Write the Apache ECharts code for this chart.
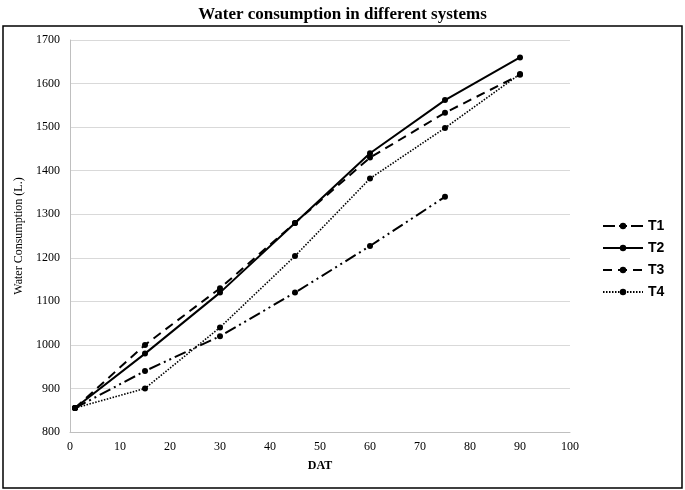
<!DOCTYPE html>
<html><head><meta charset="utf-8">
<script src="https://cdn.jsdelivr.net/npm/echarts@6/dist/echarts.min.js"></script>
<style>html,body{margin:0;padding:0;background:#fff}#c{width:685px;height:490px}</style>
</head><body><div id="c"></div>
<script>
const days = [1, 15, 30, 45, 60, 75, 90];
const t1 = [855, 940, 1020, 1120, 1227, 1340];
const t2 = [855, 980, 1120, 1280, 1440, 1562, 1660];
const t3 = [855, 1000, 1130, 1280, 1430, 1533, 1620];
const t4 = [855, 900, 1040, 1204, 1382, 1498, 1622];
const seriesNames = ['T1', 'T2', 'T3', 'T4'];
const yTicks = [800, 1700, 100];
const xTicks = [0, 100, 10];

const pairs = arr => arr.map((v, i) => [days[i], v]);
const styles = [
  {type: [12, 4, 2, 4, 2, 4], width: 2},
  {type: 'solid', width: 2},
  {type: [9, 6], width: 2},
  {type: [1.5, 1.5], width: 1.6}
];
const data = [t1, t2, t3, t4];
const chart = echarts.init(document.getElementById('c'));
chart.setOption({
  animation: false,
  title: {text: 'Water consumption in different systems', left: 'center', top: 1,
    textStyle: {fontFamily: 'Liberation Serif', fontWeight: 'bold', fontSize: 17, color: '#000'}},
  graphic: [{type: 'rect', shape: {x: 3, y: 26, width: 679, height: 462},
    style: {fill: 'none', stroke: '#000', lineWidth: 1.5}, silent: true}],
  grid: {left: 70, right: 115, top: 40, bottom: 58},
  legend: {orient: 'vertical', left: 597, top: 214, itemWidth: 40, itemHeight: 8, itemGap: 8,
    textStyle: {fontFamily: 'Liberation Sans', fontWeight: 'bold', fontSize: 14, color: '#000'},
    data: seriesNames},
  xAxis: {type: 'value', min: xTicks[0], max: xTicks[1], interval: xTicks[2],
    name: 'DAT', nameLocation: 'middle', nameGap: 28,
    nameTextStyle: {fontFamily: 'Liberation Serif', fontWeight: 'bold', fontSize: 12, color: '#000'},
    axisLine: {lineStyle: {color: '#bfbfbf'}}, axisTick: {show: false},
    axisLabel: {fontFamily: 'Liberation Serif', fontSize: 12, color: '#000', margin: 9},
    splitLine: {show: false}},
  yAxis: {type: 'value', min: yTicks[0], max: yTicks[1], interval: yTicks[2],
    name: 'Water Consumption (L.)', nameLocation: 'middle', nameGap: 38,
    nameTextStyle: {fontFamily: 'Liberation Serif', fontSize: 12, color: '#000'},
    axisLine: {show: true, lineStyle: {color: '#bfbfbf'}}, axisTick: {show: false},
    axisLabel: {fontFamily: 'Liberation Serif', fontSize: 12, color: '#000', margin: 10,
      formatter: v => String(v)},
    splitLine: {lineStyle: {color: '#d9d9d9'}}},
  series: seriesNames.map((n, i) => ({
    name: n, type: 'line', data: pairs(data[i]), symbol: 'circle', symbolSize: 6,
    itemStyle: {color: '#000'}, lineStyle: Object.assign({color: '#000'}, styles[i])
  }))
});
</script></body></html>
